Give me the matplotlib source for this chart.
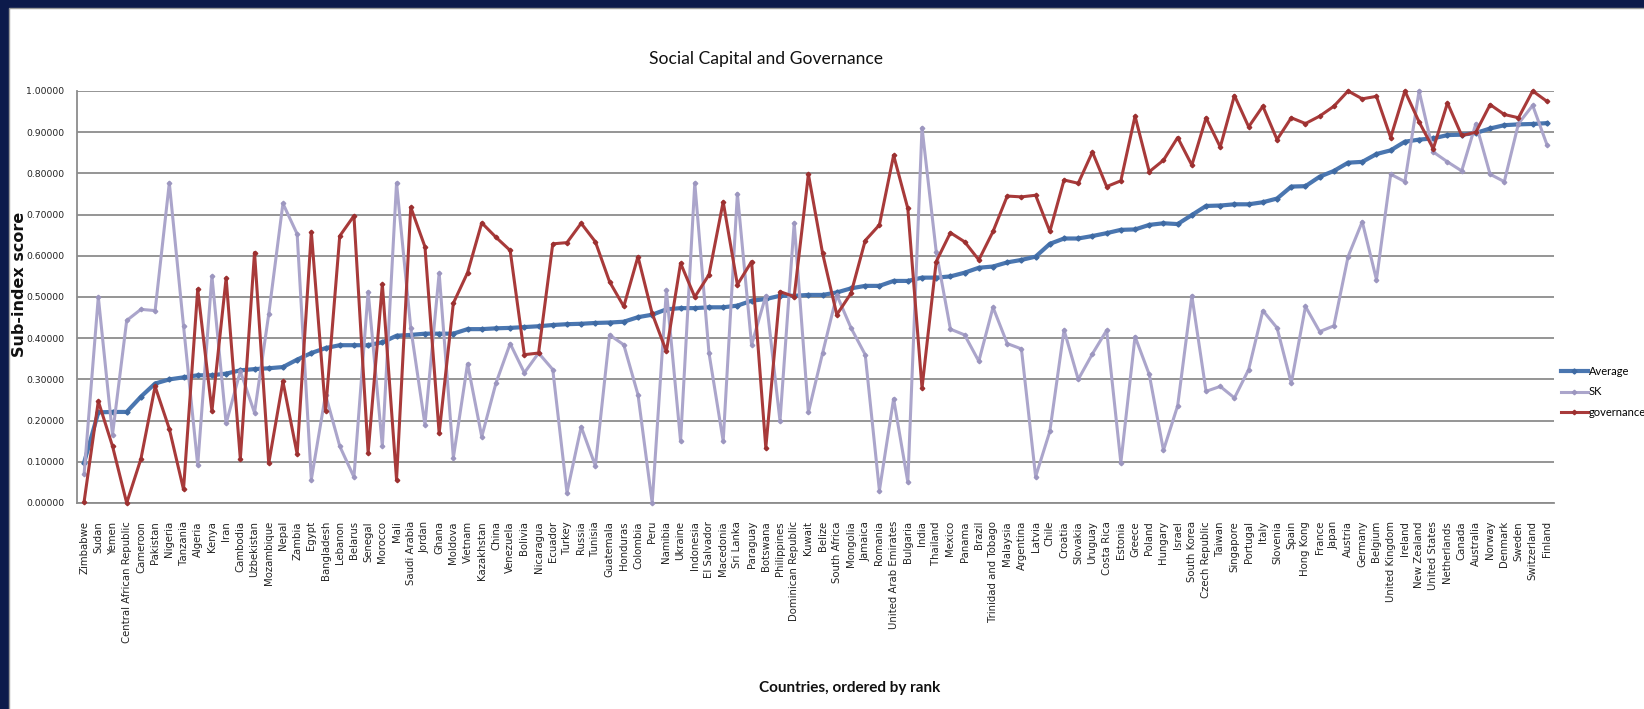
import matplotlib
matplotlib.use("Agg")
import matplotlib.pyplot as plt
from matplotlib.patches import Rectangle
from matplotlib.ticker import FormatStrFormatter, MultipleLocator

countries = ["Zimbabwe", "Sudan", "Yemen", "Central African Republic", "Cameroon", "Pakistan",
             "Nigeria", "Tanzania", "Algeria", "Kenya", "Iran", "Cambodia", "Uzbekistan",
             "Mozambique", "Nepal", "Zambia", "Egypt", "Bangladesh", "Lebanon", "Belarus",
             "Senegal", "Morocco", "Mali", "Saudi Arabia", "Jordan", "Ghana", "Moldova",
             "Vietnam", "Kazakhstan", "China", "Venezuela", "Bolivia", "Nicaragua", "Ecuador",
             "Turkey", "Russia", "Tunisia", "Guatemala", "Honduras", "Colombia", "Peru",
             "Namibia", "Ukraine", "Indonesia", "El Salvador", "Macedonia", "Sri Lanka",
             "Paraguay", "Botswana", "Philippines", "Dominican Republic", "Kuwait", "Belize",
             "South Africa", "Mongolia", "Jamaica", "Romania", "United Arab Emirates",
             "Bulgaria", "India", "Thailand", "Mexico", "Panama", "Brazil",
             "Trinidad and Tobago", "Malaysia", "Argentina", "Latvia", "Chile", "Croatia",
             "Slovakia", "Uruguay", "Costa Rica", "Estonia", "Greece", "Poland", "Hungary",
             "Israel", "South Korea", "Czech Republic", "Taiwan", "Singapore", "Portugal",
             "Italy", "Slovenia", "Spain", "Hong Kong", "France", "Japan", "Austria",
             "Germany", "Belgium", "United Kingdom", "Ireland", "New Zealand",
             "United States", "Netherlands", "Canada", "Australia", "Norway", "Denmark",
             "Sweden", "Switzerland", "Finland"]

average = [0.098, 0.220, 0.221, 0.221, 0.258, 0.290, 0.300, 0.305, 0.310, 0.310,
           0.314, 0.322, 0.325, 0.327, 0.330, 0.348, 0.364, 0.376, 0.383, 0.383,
           0.383, 0.390, 0.406, 0.408, 0.411, 0.411, 0.411, 0.422, 0.422, 0.424,
           0.425, 0.427, 0.429, 0.432, 0.434, 0.435, 0.437, 0.438, 0.440, 0.451,
           0.457, 0.470, 0.473, 0.473, 0.475, 0.475, 0.479, 0.491, 0.495, 0.503,
           0.503, 0.505, 0.505, 0.511, 0.521, 0.527, 0.527, 0.539, 0.539, 0.547,
           0.547, 0.550, 0.559, 0.571, 0.574, 0.584, 0.590, 0.598, 0.629, 0.642,
           0.642, 0.648, 0.655, 0.663, 0.664, 0.675, 0.679, 0.677, 0.699, 0.721,
           0.722, 0.725, 0.725, 0.730, 0.739, 0.768, 0.769, 0.792, 0.806, 0.826,
           0.828, 0.847, 0.856, 0.877, 0.882, 0.885, 0.893, 0.894, 0.898, 0.909,
           0.917, 0.919, 0.920, 0.922]

sk = [0.070, 0.500, 0.166, 0.443, 0.470, 0.467, 0.777, 0.430, 0.092, 0.551,
      0.193, 0.320, 0.219, 0.458, 0.727, 0.653, 0.057, 0.263, 0.138, 0.063,
      0.513, 0.138, 0.777, 0.425, 0.190, 0.558, 0.110, 0.338, 0.161, 0.291,
      0.387, 0.316, 0.364, 0.324, 0.025, 0.185, 0.090, 0.408, 0.384, 0.263,
      0.000, 0.517, 0.150, 0.777, 0.364, 0.150, 0.751, 0.384, 0.503, 0.199,
      0.680, 0.220, 0.364, 0.505, 0.425, 0.360, 0.030, 0.253, 0.051, 0.911,
      0.610, 0.422, 0.408, 0.344, 0.475, 0.387, 0.374, 0.064, 0.174, 0.420,
      0.300, 0.362, 0.419, 0.098, 0.404, 0.312, 0.128, 0.236, 0.503, 0.271,
      0.283, 0.255, 0.324, 0.467, 0.425, 0.291, 0.477, 0.416, 0.430, 0.598,
      0.683, 0.542, 0.798, 0.780, 1.000, 0.852, 0.828, 0.806, 0.921, 0.798,
      0.780, 0.921, 0.965, 0.870]

governance = [0.003, 0.247, 0.138, 0.000, 0.107, 0.283, 0.180, 0.033, 0.519, 0.223,
              0.546, 0.107, 0.608, 0.096, 0.295, 0.119, 0.658, 0.223, 0.648, 0.697,
              0.122, 0.531, 0.057, 0.718, 0.622, 0.169, 0.485, 0.559, 0.680, 0.645,
              0.613, 0.360, 0.364, 0.629, 0.632, 0.679, 0.634, 0.537, 0.477, 0.598,
              0.460, 0.368, 0.582, 0.500, 0.554, 0.731, 0.530, 0.586, 0.134, 0.513,
              0.501, 0.798, 0.606, 0.457, 0.509, 0.637, 0.675, 0.844, 0.715, 0.279,
              0.586, 0.656, 0.634, 0.590, 0.659, 0.745, 0.743, 0.747, 0.659, 0.784,
              0.776, 0.852, 0.768, 0.782, 0.939, 0.804, 0.832, 0.887, 0.820, 0.935,
              0.864, 0.989, 0.913, 0.963, 0.882, 0.935, 0.921, 0.939, 0.963, 1.000,
              0.981, 0.987, 0.887, 1.000, 0.925, 0.860, 0.971, 0.892, 0.900, 0.967,
              0.943, 0.935, 1.000, 0.975]

W, H = 1644, 709
fig = plt.figure(figsize=(W / 100, H / 100), dpi=100)
fig.patch.set_facecolor("#0c1a4b")
# white chart panel: navy frame only visible on the top and left (cropped screenshot)
panel = Rectangle((9 / W, -0.01), 1.02, 1 - 8 / H + 0.01,
                  transform=fig.transFigure, facecolor="white",
                  edgecolor="#9a9a9a", linewidth=1.0, zorder=-10)
fig.patches.append(panel)

ax = fig.add_axes([77 / W, 1 - 503 / H, (1554 - 77) / W, (503 - 91) / H])
ax.set_zorder(5)
ax.patch.set_alpha(0.0)

x = list(range(len(countries)))
grid_c = "#8c8c8c"

ax.plot(x, average, color="#4a76b0", lw=3.0, marker="D", ms=2.6,
        mfc="#3f6aa3", mec="#3f6aa3", label="Average", clip_on=False, zorder=3)
ax.plot(x, sk, color="#aba5cb", lw=2.2, marker="D", ms=2.3,
        mfc="#9c96bf", mec="#9c96bf", label="SK", clip_on=False, zorder=4)
ax.plot(x, governance, color="#a83a3a", lw=2.2, marker="D", ms=2.3,
        mfc="#9c3030", mec="#9c3030", label="governance", clip_on=False, zorder=5)

ax.set_xlim(-0.5, len(countries) - 0.5)
ax.set_ylim(0, 1.0)
ax.yaxis.set_major_locator(MultipleLocator(0.1))
ax.yaxis.set_major_formatter(FormatStrFormatter("%.5f"))
ax.grid(axis="y", color=grid_c, lw=1.3, zorder=1)
ax.set_axisbelow(True)

ax.set_xticks(x)
ax.set_xticklabels(countries, rotation=90, fontsize=7.3, family="DejaVu Sans",
                   color="#222222")
ax.tick_params(axis="x", length=0, pad=13)
ax.tick_params(axis="y", length=0, pad=9, labelsize=6.7, labelcolor="#222222")

for side in ("top", "right"):
    ax.spines[side].set_visible(False)
for side in ("left", "bottom"):
    ax.spines[side].set_color(grid_c)
    ax.spines[side].set_linewidth(1.3)

fig.text(19 / W, 1 - 284 / H, "Sub-index score", rotation=90,
         ha="center", va="center", fontsize=11.5, fontweight="bold",
         family="DejaVu Sans", color="#111111")

fig.text(766 / W, 1 - 59 / H, "Social Capital and Governance",
         ha="center", va="center", fontsize=12.6, family="Lato", color="#111111")
fig.text(850 / W, 1 - 688 / H, "Countries, ordered by rank",
         ha="center", va="center", fontsize=11, fontweight="bold",
         family="Lato", color="#111111")

leg = fig.legend(loc="upper left", bbox_to_anchor=(1561 / W, 1 - 366 / H),
                 frameon=False, prop={"family": "Lato", "size": 8},
                 handlelength=2.4, handletextpad=0.08, labelspacing=0.85,
                 borderaxespad=0, borderpad=0)

fig.savefig("out.png", dpi=100, facecolor=fig.get_facecolor())
